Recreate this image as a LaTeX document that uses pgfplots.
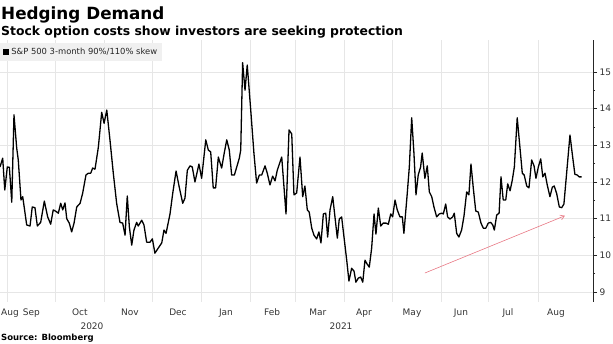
\documentclass[border=0pt]{standalone}
\usepackage{fontspec}
\setmainfont{DejaVu Sans}
\usepackage{pgfplots}
\pgfplotsset{compat=1.18}
\usetikzlibrary{arrows.meta}
\definecolor{gridc}{RGB}{230,230,230}
\definecolor{arrowc}{RGB}{232,120,132}
\definecolor{legbg}{RGB}{240,240,240}
\begin{document}
\begin{tikzpicture}
\useasboundingbox (0pt,-42pt) rectangle (613pt,302pt);
\begin{axis}[
  at={(0pt,0pt)}, anchor=south west,
  scale only axis, width=593pt, height=262pt,
  xmin=-4.6, xmax=368.6, ymin=8.73, ymax=15.87,
  clip=false,
  axis y line*=right, axis x line*=bottom,
  x axis line style={draw=none},
  y axis line style={draw=black!85, line width=0.8pt},
  /pgf/number format/assume math mode=true,
  xtick={0,30,61,91,122,153,181,212,242,273,303,334},
  xticklabels={},
  major x tick style={draw=none},
  extra x ticks={1.7,15.2,45.7,77.2,107.4,137.6,166.6,195.5,224.5,254.7,285.5,315.1,345.3},
  extra x tick labels={Aug,Sep,Oct,Nov,Dec,Jan,Feb,Mar,Apr,May,Jun,Jul,Aug},
  extra x tick style={grid=none, major tick length=0pt, tick style={draw=none},
     xticklabel style={anchor=base, yshift=-13.5pt}},
  xticklabel style={font=\fontsize{9}{10}\selectfont, text=black!80},
  ytick={9,10,11,12,13,14,15},
  minor y tick num=1,
  yticklabel style={font=\fontsize{9}{10}\selectfont, text=black!80, xshift=-1pt},
  tick align=outside,
  major tick length=4pt, minor tick length=2pt,
  every tick/.style={black!85, line width=0.6pt},
  xmajorgrids, ymajorgrids,
  grid style={gridc, line width=0.6pt},
  legend style={at={(0,1)}, anchor=north west, yshift=-3pt, fill=legbg, draw=none,
     font=\fontsize{8.4}{10}\selectfont, inner xsep=2.5pt, inner ysep=3pt, text=black!85},
  legend cell align=left,
  legend image code/.code={\fill[black] (0pt,-2.7pt) rectangle (5.4pt,2.7pt);},
]
\addplot[black, line width=1.3pt, line join=round] coordinates {
(-4.6,12.41) (-2.9,12.65) (-1.6,11.78) (0,12.41) (1.3,12.40) (2.8,11.45) (4.2,13.83) (5.9,12.93) (6.9,12.6)
(8.6,11.51) (9.7,11.6) (12.2,10.83) (14.3,10.8) (15.7,11.32) (17.4,11.3) (18.9,10.8) (21.0,10.9) (23.3,11.48)
(25.4,11.05) (27.3,10.85) (28.9,11.24) (30.6,11.2) (32.1,11.15) (33.6,11.42) (34.9,11.24) (36.3,11.43) (37.4,11.0)
(39.0,10.88) (40.5,10.64) (42.0,10.88) (43.7,11.32) (45.8,11.42) (47.4,11.69) (49.5,12.19) (51.0,12.24) (52.5,12.24)
(53.7,12.38) (55.2,12.35) (57.3,12.95) (59.4,13.9) (60.9,13.6) (62.6,13.96) (64.6,13.15) (66.7,12.24) (68.8,11.42)
(70.9,10.9) (72.6,10.88) (74.1,10.55) (75.5,11.62) (76.8,10.78) (78.3,10.28) (79.7,10.69) (81.4,10.9) (82.4,10.8)
(84.6,10.96) (86.0,10.83) (87.7,10.36) (89.8,10.36) (91.3,10.45) (92.9,10.06) (95.0,10.2) (97.2,10.34) (98.6,10.69)
(99.9,10.6) (102.4,11.13) (104.1,11.69) (106.2,12.3) (108.2,11.86) (110.4,11.42) (111.8,11.56) (113.3,12.32)
(115.0,12.44) (116.4,12.41) (118.1,12.0) (120.6,12.49) (122.3,12.1) (124.9,13.15) (126.5,12.87) (128.0,12.82)
(129.6,11.84) (131.1,11.84) (132.8,12.68) (134.9,12.38) (136.4,12.76) (138.1,13.15) (139.7,12.87) (141.2,12.19)
(142.9,12.19) (144.4,12.41) (146.0,12.65) (146.9,12.87) (148.1,15.25) (149.6,14.5) (151.0,15.19) (153.2,13.96)
(155.2,12.79) (156.9,11.97) (158.6,12.19) (160.1,12.19) (162.2,12.44) (163.6,12.24) (165.3,11.92) (167.0,12.16)
(168.5,12.03) (169.9,12.32) (172.7,12.68) (175.4,11.13) (177.3,13.42) (179.0,13.31) (180.4,11.65) (182.1,11.7)
(184.2,12.68) (185.9,11.6) (187.3,11.89) (188.8,11.24) (190.0,11.18) (191.6,10.74) (193.0,10.55) (194.7,10.45)
(196.1,10.64) (197.4,10.34) (198.9,11.13) (200.4,11.15) (201.6,10.5) (203.1,11.24) (204.8,11.6) (206.2,11.05)
(207.7,10.47) (208.9,10.99) (210.4,11.05) (212.1,10.42) (213.6,9.87) (215.0,9.3) (216.7,9.65) (218.2,9.57)
(219.4,9.27) (220.9,9.38) (222.4,9.41) (223.7,9.27) (225.1,9.87) (226.5,9.76) (227.8,9.68) (229.3,10.2)
(230.8,11.13) (232.0,10.58) (233.5,11.29) (235.0,10.8) (236.6,10.88) (238.3,10.88) (239.8,10.85) (241.3,11.13)
(242.5,11.05) (244.0,11.51) (245.4,11.24) (247.1,11.05) (248.6,11.05) (249.6,10.6) (251.7,11.69) (253.0,12.41)
(254.5,13.75) (255.9,12.79) (257.2,11.65) (258.6,12.19) (260.1,12.41) (261.1,12.79) (262.8,12.1) (264.3,12.44)
(265.6,11.73) (267.1,11.6) (268.5,11.32) (270.2,11.05) (271.9,11.13) (273.4,11.15) (274.4,11.13) (275.9,11.4)
(277.1,11.05) (278.6,10.99) (280.3,11.05) (281.3,11.15) (282.8,10.6) (284.2,10.5) (285.9,10.69) (287.4,11.07)
(289.1,11.73) (290.5,11.65) (291.8,12.49) (293.2,11.86) (294.8,11.21) (296.4,11.18) (298.1,10.88) (299.6,10.74)
(301.1,10.74) (302.7,10.88) (304.2,10.9) (305.5,10.83) (306.5,10.69) (308.0,11.1) (309.5,11.15) (310.7,12.14)
(312.1,11.51) (313.7,11.51) (314.9,11.95) (316.4,11.76) (317.8,12.05) (319.1,12.41) (320.9,13.75) (322.6,12.95)
(324.1,12.24) (325.3,12.19) (326.9,11.89) (328.3,11.84) (330.0,12.6) (331.5,12.44) (332.7,12.1) (334.2,12.41)
(335.7,12.63) (337.0,12.14) (338.4,12.24) (339.8,11.92) (341.5,11.6) (343.0,11.86) (344.2,11.89) (345.7,11.69)
(347.4,11.32) (348.9,11.3) (350.3,11.4) (352.0,12.24) (354.1,13.28) (355.8,12.68) (357.2,12.21) (358.7,12.19)
(359.9,12.14) (361.4,12.14)
};
\addlegendentry{S\&P 500 3-month 90\%/110\% skew}
\draw[arrowc, line width=0.6pt, -{Straight Barb[length=4pt,width=5pt]}] (axis cs:262.8,9.52) -- (axis cs:350.9,11.08);
\end{axis}
\node[anchor=base west, inner sep=0pt] at (1pt,282pt) {\fontsize{16.8}{18}\selectfont\bfseries Hedging Demand};
\node[anchor=base west, inner sep=0pt] at (1pt,266pt) {\fontsize{12.4}{14}\selectfont\bfseries Stock option costs show investors are seeking protection};
\node[anchor=base, inner sep=0pt, text=black!80] at (92pt,-28pt) {\fontsize{9}{10}\selectfont 2020};
\node[anchor=base, inner sep=0pt, text=black!80] at (341pt,-28pt) {\fontsize{9}{10}\selectfont 2021};
\node[anchor=base west, inner sep=0pt] at (1pt,-39pt) {\fontsize{8.5}{10}\selectfont\bfseries Source: Bloomberg};
\end{tikzpicture}
\end{document}
